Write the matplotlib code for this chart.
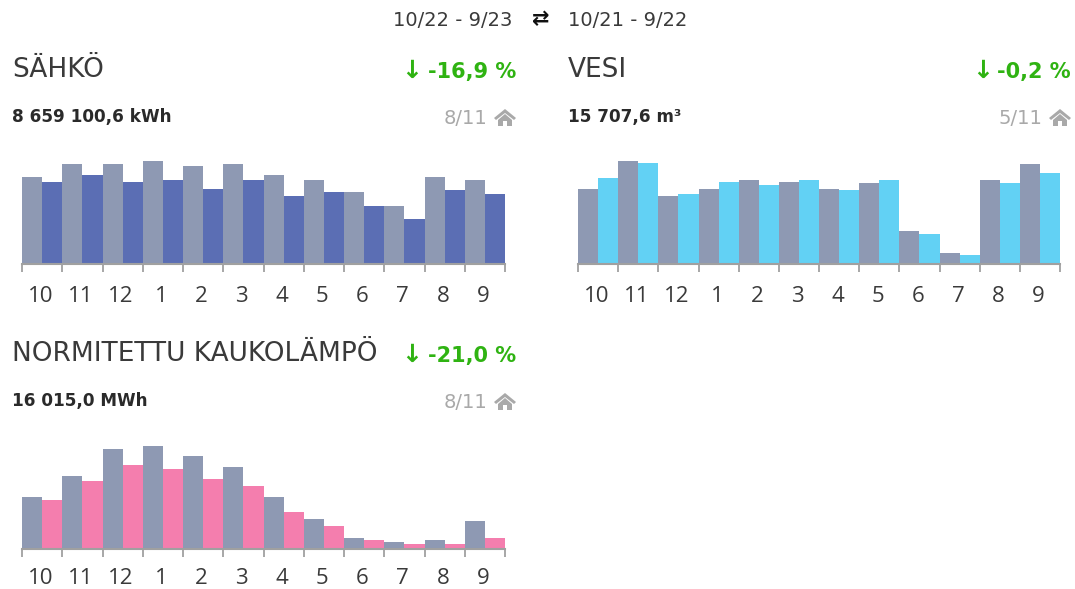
import matplotlib
matplotlib.use("Agg")
import matplotlib.pyplot as plt
from matplotlib.patches import Polygon

W, H = 1075, 589

months = ["10", "11", "12", "1", "2", "3", "4", "5", "6", "7", "8", "9"]

# bar heights
sahko_prev = [87, 100, 100, 103, 98, 100, 89, 84, 72, 58, 87, 84]
sahko_curr = [82, 89, 82, 84, 75, 84, 68, 72, 58, 45, 74, 70]
vesi_prev = [75, 103, 68, 75, 84, 82, 75, 81, 33, 11, 84, 100]
vesi_curr = [86, 101, 70, 82, 79, 84, 74, 84, 30, 9, 81, 91]
lampo_prev = [52, 73, 100, 103, 93, 82, 52, 30, 11, 7, 9, 28]
lampo_curr = [49, 68, 84, 80, 70, 63, 37, 23, 9, 5, 5, 11]

GREY = "#8E99B3"
BLUE = "#5B6EB4"
CYAN = "#62D1F4"
PINK = "#F47EAE"
GREEN = "#2FB312"
DARK = "#3A3A3A"
FONT = "DejaVu Sans"

fig = plt.figure(figsize=(W / 100, H / 100), dpi=100, facecolor="white")


def txt(x, y, s, size, color=DARK, weight="normal", ha="left", family=FONT):
    fig.text(x / W, 1 - y / H, s, fontsize=size, color=color, weight=weight,
             ha=ha, va="center", family=family)


def house(x, y, color="#A9A9A9"):
    # small roof + body icon, centred at x, y
    roof = [(-11, 1), (0, -8), (11, 1), (9, 3), (0, -4), (-9, 3)]
    body = [(-7, 3), (0, -3), (7, 3), (7, 9), (2, 9), (2, 4), (-2, 4), (-2, 9), (-7, 9)]
    for pts in (roof, body):
        xy = [((x + a) / W, 1 - (y + b) / H) for a, b in pts]
        fig.add_artist(Polygon(xy, closed=True, fc=color, ec="none", transform=fig.transFigure))


def panel(left, right, base, prev, curr, color, pad):
    top = base - 115
    ax = fig.add_axes([left / W, 1 - base / H, (right - left) / W, (base - top) / H])
    xs = list(range(12))
    ax.bar([i + 0.25 for i in xs], prev, width=0.5, color=GREY)
    ax.bar([i + 0.75 for i in xs], curr, width=0.5, color=color)
    ax.set_xlim(0, 12)
    ax.set_ylim(0, 115)
    ax.set_yticks([])
    ax.set_xticks(range(13))
    ax.set_xticklabels([])
    ax.set_xticks([i + 0.46 for i in xs], minor=True)
    ax.set_xticklabels(months, minor=True, fontsize=16, color=DARK, family="Open Sans")
    ax.tick_params(axis="x", which="major", length=6, width=1.3, color="#A0A0A0")
    ax.tick_params(axis="x", which="minor", length=0, pad=pad)
    for s in ["top", "left", "right"]:
        ax.spines[s].set_visible(False)
    ax.spines["bottom"].set_color("#A0A0A0")
    ax.spines["bottom"].set_linewidth(1.5)
    ax.patch.set_alpha(0)


def header(x, x_right, y_title, y_sub, title, change, total, rank, arrow_x):
    txt(x, y_title, title, 19)
    txt(x_right, y_title + 2, change, 15, color=GREEN, weight="bold", ha="right")
    txt(arrow_x, y_title + 1, "↓", 18, color=GREEN, weight="bold", ha="center")
    txt(x, y_sub, total, 12.2, color="#2A2A2A", weight="bold")
    txt(x_right - 29, y_sub + 1, rank, 14, color="#A9A9A9", ha="right")
    house(x_right - 11, y_sub)


txt(393, 20, "10/22 - 9/23", 14)
txt(541, 19, "⇄", 15, color="#111111", weight="bold", ha="center")
txt(568, 20, "10/21 - 9/22", 14)

header(12, 516, 70, 117, "SÄHKÖ", "-16,9 %", "8 659 100,6 kWh", "8/11", 412)
header(568, 1071, 70, 117, "VESI", "-0,2 %", "15 707,6 m³", "5/11", 983)
header(12, 516, 354, 401, "NORMITETTU KAUKOLÄMPÖ", "-21,0 %", "16 015,0 MWh", "8/11", 412)

panel(22, 505, 264, sahko_prev, sahko_curr, BLUE, 16)
panel(578, 1060, 264, vesi_prev, vesi_curr, CYAN, 16)
panel(22, 505, 549, lampo_prev, lampo_curr, PINK, 14)

fig.savefig("out.png", dpi=100)
